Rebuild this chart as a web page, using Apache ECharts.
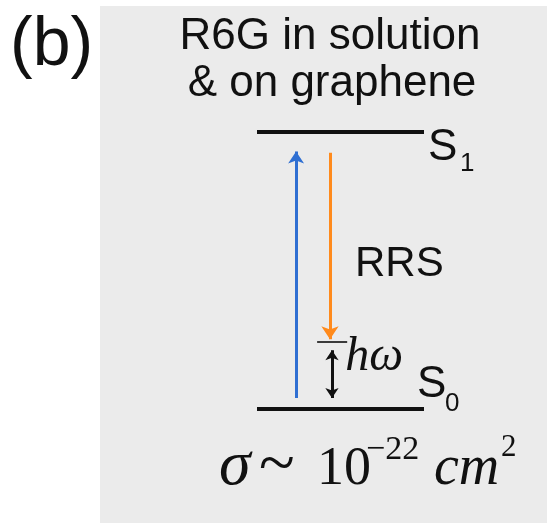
<!DOCTYPE html>
<html>
<head>
<meta charset="utf-8">
<script src="https://cdn.jsdelivr.net/npm/echarts@6/dist/echarts.min.js"></script>
<style>
  html, body { margin: 0; padding: 0; background: #fff; }
  #c { width: 550px; height: 527px; }
</style>
</head>
<body>
<div id="c"></div>
<script>
// Energy-level scheme of resonance Raman scattering (RRS) for R6G.
// Energies are normalised to the S0 -> S1 gap (S0 = 0, S1 = 1).
const panelTag = '(b)';
const titleLines = ['R6G in solution', '& on graphene'];
const levelNames = ['S0', 'S1'];
const levelEnergy = [0, 1];
const phononEnergy = 0.242;            // vibrational level ħω above S0
const excitation = [0.04, 0.93];       // blue arrow: from, to
const scattering = [0.925, 0.252];     // orange arrow: from, to
const phonon = [0.04, 0.212];          // double arrow span
const crossSection = { base: '10', exponent: '\u221222', unit: 'cm', unitPower: '2' };

const SANS = '"Liberation Sans", Arial, sans-serif';
const SERIF = '"Liberation Serif", "Times New Roman", serif';

// horizontal columns (in axis units) for the level lines and arrows
const levelSpan = [0, 1];
const virtualSpan = [0.36, 0.54];
const xExcite = 0.234;
const xScatter = 0.437;
const xPhonon = 0.449;

const chart = echarts.init(document.getElementById('c'));

const arrowLine = (coords, color, width, symbol, size) => ({
  type: 'lines',
  coordinateSystem: 'cartesian2d',
  symbol: symbol,
  symbolSize: size,
  lineStyle: { color: color, width: width, opacity: 1, curveness: 0 },
  data: [{ coords: coords }],
  silent: true,
  z: 3
});

chart.setOption({
  backgroundColor: '#ffffff',
  animation: false,
  grid: { left: 257, top: 132, width: 167, height: 277 },
  xAxis: { type: 'value', min: 0, max: 1, show: false },
  yAxis: { type: 'value', min: 0, max: 1, show: false },
  series: [
    // electronic levels S0 and S1
    {
      type: 'lines',
      coordinateSystem: 'cartesian2d',
      symbol: 'none',
      lineStyle: { color: '#111111', width: 4, opacity: 1 },
      data: levelEnergy.map(e => ({ coords: [[levelSpan[0], e], [levelSpan[1], e]] })),
      silent: true,
      z: 2
    },
    // vibrational (final) level
    {
      type: 'lines',
      coordinateSystem: 'cartesian2d',
      symbol: 'none',
      lineStyle: { color: '#3a3a3a', width: 2, opacity: 1 },
      data: [{ coords: [[virtualSpan[0], phononEnergy], [virtualSpan[1], phononEnergy]] }],
      silent: true,
      z: 2
    },
    arrowLine([[xExcite, excitation[0]], [xExcite, excitation[1]]], '#2f6fd2', 3, ['none', 'arrow'], 12),
    arrowLine([[xScatter, scattering[0]], [xScatter, scattering[1]]], '#ff8a1c', 3, ['none', 'arrow'], 13),
    arrowLine([[xPhonon, phonon[0]], [xPhonon, phonon[1]]], '#111111', 3, ['arrow', 'arrow'], 10)
  ]
});

// texts anchored to the level lines through the grid's scales
const px = (x, y) => chart.convertToPixel({ gridIndex: 0 }, [x, y]);
const s0 = px(levelSpan[1], levelEnergy[0]);
const s1 = px(levelSpan[1], levelEnergy[1]);
const hw = px(virtualSpan[1], phononEnergy);
const rrs = px(xScatter, (scattering[0] + scattering[1]) / 2);

// y is given as the text baseline; the text box is top-aligned, so shift up
const txt = (x, baseline, text, size, family, extra) => ({
  type: 'text',
  x: x,
  y: baseline - size * (family === SERIF ? 0.8 : 0.82),
  z: 10,
  silent: true,
  style: Object.assign({
    text: text,
    fill: '#111111',
    font: size + 'px ' + family,
    textAlign: 'left',
    verticalAlign: 'top'
  }, extra || {})
});

const levelLabel = (name, anchor, dx, dy, subDx, subDy) => [
  txt(anchor[0] + dx, anchor[1] + dy, name.charAt(0), 44, SANS),
  txt(anchor[0] + subDx, anchor[1] + subDy, name.slice(1), 26, SANS)
];

chart.setOption({
  graphic: [
    { type: 'rect', shape: { x: 100, y: 6, width: 447, height: 517 }, style: { fill: '#ebebeb' }, z: -10, silent: true },
    txt(10, 68, panelTag, 68, SANS),
    txt(330, 51, titleLines[0], 44, SANS, { textAlign: 'center' }),
    txt(332, 98, titleLines[1], 44, SANS, { textAlign: 'center' }),
    ...levelLabel(levelNames[1], s1, 4, 30, 36, 40),
    ...levelLabel(levelNames[0], s0, -7, -10, 21, 3),
    txt(rrs[0] + 25, rrs[1] + 32, 'RRS', 42, SANS),
    txt(hw[0] - 2, hw[1] + 30, 'h\u03c9', 48, SERIF, { font: 'italic 48px ' + SERIF }),
    // cross-section sigma ~ 10^-22 cm^2
    txt(219, 486, '\u03c3', 64, SERIF, { font: 'italic 64px ' + SERIF }),
    txt(259, 486, '~', 66, SERIF),
    txt(317, 486, crossSection.base, 54, SERIF),
    txt(366, 460, crossSection.exponent, 34, SERIF),
    txt(434, 486, crossSection.unit, 56, SERIF, { font: 'italic 56px ' + SERIF }),
    txt(501, 457, crossSection.unitPower, 31, SERIF)
  ]
});
</script>
</body>
</html>
